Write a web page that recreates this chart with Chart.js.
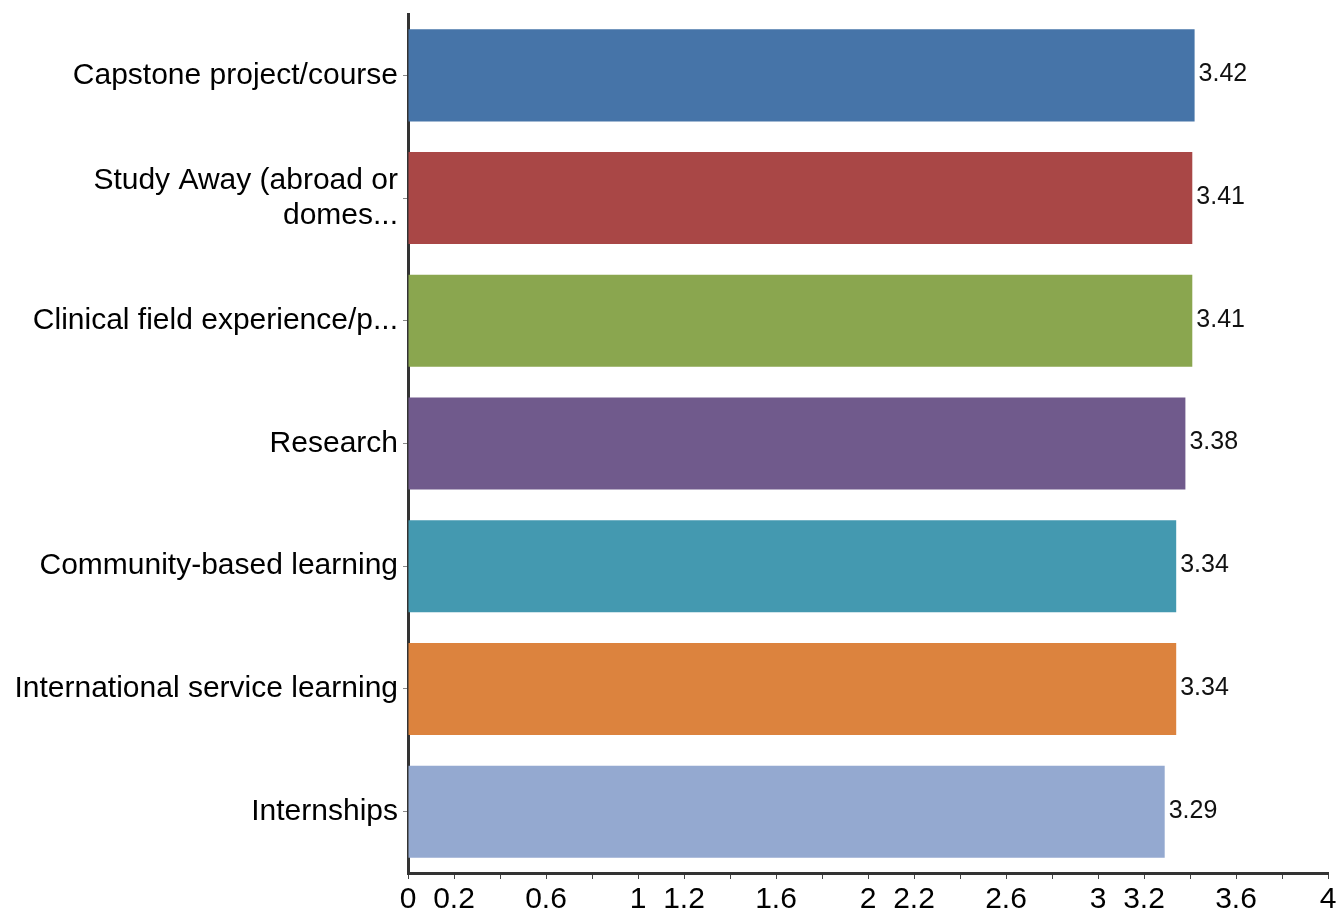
<!DOCTYPE html>
<html>
<head>
<meta charset="utf-8">
<script src="https://cdn.jsdelivr.net/npm/chart.js@4"></script>
<style>
  html, body { margin: 0; padding: 0; background: #fff; }
  #wrap { width: 1340px; height: 913px; }
</style>
</head>
<body>
<div id="wrap"><canvas id="grafico"></canvas></div>
<script>
// Dados
const categorias = [
    'Capstone project/course',
    ['Study Away (abroad or', 'domes...'],
    'Clinical field experience/p...',
    'Research',
    'Community-based learning',
    'International service learning',
    'Internships'
];
const medias = [3.42, 3.41, 3.41, 3.38, 3.34, 3.34, 3.29];
const cores = ['#4674a8', '#a94746', '#8aa64f', '#705a8c', '#4499b0', '#dc833e', '#94a9d0'];
const rotulosX = [0, 0.2, 0.6, 1, 1.2, 1.6, 2, 2.2, 2.6, 3, 3.2, 3.6, 4];

const fonte = 'Liberation Sans, Arial, sans-serif';

// Plugin para escrever os valores ao lado das barras
const valores = {
    id: 'valores',
    afterDatasetsDraw(chart) {
        const ctx = chart.ctx;
        const meta = chart.getDatasetMeta(0);
        ctx.save();
        ctx.font = '25px ' + fonte;
        ctx.fillStyle = '#111';
        ctx.textAlign = 'left';
        ctx.textBaseline = 'middle';
        meta.data.forEach((barra, i) => {
            ctx.fillText(medias[i].toFixed(2), barra.x + 4, barra.y - 1);
        });
        ctx.restore();
    }
};

new Chart(document.getElementById('grafico'), {
    type: 'bar',
    data: {
        labels: categorias,
        datasets: [{
            data: medias,
            backgroundColor: cores,
            borderWidth: 0,
            categoryPercentage: 1,
            barPercentage: 0.75
        }]
    },
    options: {
        indexAxis: 'y',
        responsive: true,
        maintainAspectRatio: false,
        animation: false,
        layout: { padding: { top: 14, right: 12, left: 0, bottom: 0 } },
        plugins: {
            legend: { display: false },
            tooltip: { enabled: false }
        },
        scales: {
            x: {
                min: 0,
                max: 4,
                grid: { drawOnChartArea: false, tickLength: 6, color: '#444', lineWidth: 1 },
                border: { display: true, color: '#333', width: 3 },
                ticks: {
                    stepSize: 0.2,
                    autoSkip: false,
                    maxRotation: 0,
                    padding: 3,
                    color: '#000',
                    font: { family: fonte, size: 30 },
                    callback: (v) => {
                        const r = Math.round(v * 10) / 10;
                        return rotulosX.includes(r) ? String(r) : '';
                    }
                },
                afterFit: (s) => { s.height = 40; }
            },
            y: {
                grid: { drawOnChartArea: false, offset: false, tickLength: 5, color: '#888', lineWidth: 1 },
                border: { display: true, color: '#333', width: 3 },
                ticks: {
                    color: '#000',
                    padding: 5,
                    font: { family: fonte, size: 30, lineHeight: 1.15 }
                },
                afterFit: (s) => {
                    s.width = 408;
                    s.paddingTop = 0;
                    s.paddingBottom = 0;
                }
            }
        }
    },
    plugins: [valores]
});
</script>
</body>
</html>
